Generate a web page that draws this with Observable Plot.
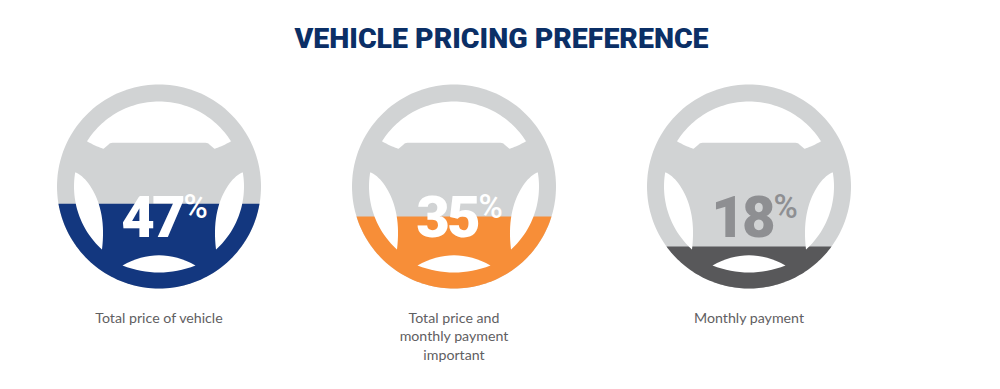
<!DOCTYPE html>
<html><head><meta charset="utf-8">
<script src="https://cdn.jsdelivr.net/npm/d3@7"></script>
<script src="https://cdn.jsdelivr.net/npm/@observablehq/plot@0.6"></script>
<style>
html,body{margin:0;padding:0;background:#fff;}
h1{margin:0;height:70px;width:1000px;box-sizing:border-box;padding-top:20px;padding-left:3px;text-align:center;
font:900 28.5px/38px Roboto,sans-serif;letter-spacing:0;color:#0b2f66;}
svg{display:block;}
.num text{letter-spacing:-3px;}
</style></head><body>
<h1 id="t">VEHICLE PRICING PREFERENCE</h1>
<script>
const title = "VEHICLE PRICING PREFERENCE";
const labels = ["Total price of vehicle", "Total price and\nmonthly payment\nimportant", "Monthly payment"];
const values = [47, 35, 18];
const fillShare = [0.415, 0.353, 0.206]; // filled height as share of the wheel's diameter
const fillColors = ["#13377f", "#f78e38", "#58585a"];
const numberColors = ["#ffffff", "#ffffff", "#8e8f92"];

const R = 102, r = 85, CY = 186;
const cxOf = i => 158.5 + i * 295;
const deg = Math.PI / 180;
const arc = (rad, a0, a1, n = 40) => d3.range(n + 1).map(k => {
  const a = (a0 + (a1 - a0) * k / n) * deg;
  return [rad * Math.cos(a), rad * Math.sin(a)];
});
const quad = (p0, c, p1, n = 16) => d3.range(n + 1).map(k => {
  const t = k / n, u = 1 - t;
  return [u*u*p0[0] + 2*u*t*c[0] + t*t*p1[0], u*u*p0[1] + 2*u*t*c[1] + t*t*p1[1]];
});
const ang = ([x, y]) => Math.atan2(y, x) / deg;
// Wheel openings, in pixels relative to the wheel's centre
const tl = [-72.7, -45.6], tr = [72.7, -45.6];
const topHole = [
  ...arc(r, ang(tl) + 360, ang(tr) + 360, 60),
  ...quad(tr, [64, -40.5], [55.4, -37.7]),
  [50.4, -42], ...quad([50.4,-42],[49,-43.8],[45,-43.8],5),
  ...quad([-45,-43.8],[-49,-43.8],[-50.4,-42],5),
  ...quad([-55.4,-37.7],[-64,-40.5],tl)
];
const leftHole = [
  ...arc(r, 180 + 9.6, 180 - 47.8, 30),
  ...quad([-57, 63], [-53, 30], [-64.5, 7], 14),
  ...quad([-64.5, 7], [-73, -10], [-84.5, -14.6], 12)
];
const rightHole = leftHole.map(([x, y]) => [-x, y]);
const bottomHole = [
  ...quad([-36.5, 79], [0, 58.5], [36.5, 79]),
  ...quad([36.5, 79], [0, 93], [-36.5, 79])
];
const circle = arc(R, 0, 360, 180);
const segment = share => {
  const h = R - 2 * R * share;      // level below centre
  const a = Math.asin(h / R) / deg;
  return arc(R, a, 180 - a, 80);
};

const rows = (shapeOf, color) => values.flatMap((v, i) =>
  shapeOf(i).map(([x, y]) => ({i, x: cxOf(i) + x, y: CY + y, color: color(i)})));
const poly = (shapeOf, color) => Plot.line(rows(shapeOf, color), {
  x: "x", y: "y", z: "i", fill: "color", stroke: null, curve: "linear-closed"
});
const table = values.map((v, i) => ({i, v, label: labels[i], x: cxOf(i), color: numberColors[i]}));

const chart = Plot.plot({
  width: 1000, height: 319,
  margin: 0,
  x: {domain: [0, 1000], range: [0, 1000], axis: null},
  y: {domain: [70, 389], range: [0, 319], axis: null},
  color: {type: "identity"},
  style: {background: "#fff"},
  marks: [
    poly(() => circle, () => "#d1d3d4"),
    poly(i => segment(fillShare[i]), i => fillColors[i]),
    poly(() => topHole, () => "#fff"),
    poly(() => leftHole, () => "#fff"),
    poly(() => rightHole, () => "#fff"),
    poly(() => bottomHole, () => "#fff"),
    Plot.text(table, {x: d => d.x + 23.5, y: CY + 31.5, text: d => String(d.v), fill: "color",
      textAnchor: "end", fontSize: 58, fontWeight: 900, fontFamily: "Roboto", className: "num"}),
    Plot.text(table, {x: d => d.x + 24.5, y: CY + 21, text: () => "%", fill: "color",
      textAnchor: "start", fontSize: 33, fontWeight: 500, fontFamily: "Roboto"}),
    Plot.text(table, {x: "x", y: 317, text: "label", lineAnchor: "top", dy: -8, lineHeight: 1.3,
      fill: "#5f6062", fontSize: 14.2, fontFamily: "Lato"})
  ]
});
document.getElementById("t").textContent = title;
document.body.append(chart);
</script>
</body></html>
